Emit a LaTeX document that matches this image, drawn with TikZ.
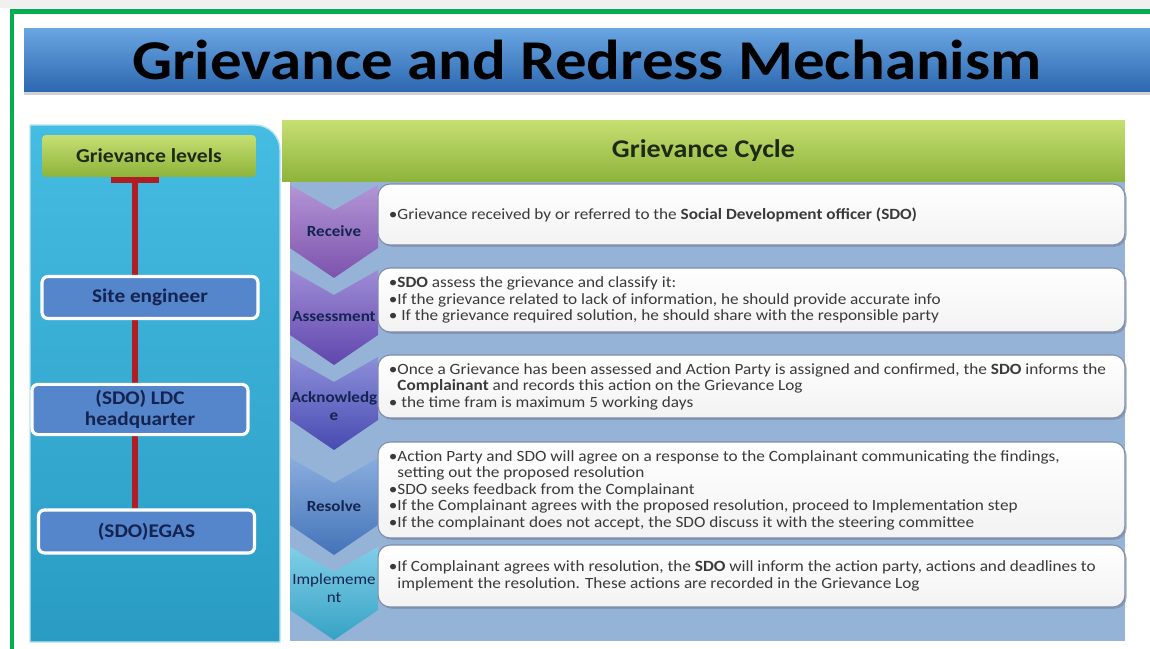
\documentclass[tikz,border=0pt]{standalone}
\usepackage{fontspec}
\setmainfont[FakeStretch=1.1]{Carlito}
\newfontfamily\titlefont[FakeStretch=1.12]{Carlito}
\usetikzlibrary{arrows.meta,shadows}

\definecolor{framegreen}{HTML}{00B050}
\definecolor{titletop}{HTML}{6AA6E2}
\definecolor{titlebot}{HTML}{2C67B0}
\definecolor{headtop}{HTML}{C6DF72}
\definecolor{headbot}{HTML}{8DB33A}
\definecolor{paneltop}{HTML}{45BCE2}
\definecolor{panelbot}{HTML}{2A9CC4}
\definecolor{cycleback}{HTML}{95B3D7}
\definecolor{levelblue}{HTML}{5585CB}
\definecolor{levelred}{HTML}{B01E23}
\definecolor{navytext}{HTML}{14234F}
\definecolor{headtext}{HTML}{1E2A14}
\definecolor{boxtext}{HTML}{3A3A3A}
\definecolor{boxedge}{HTML}{7D8CA8}
\definecolor{chA}{HTML}{8A5CC0}
\definecolor{chB}{HTML}{6A4EC0}
\definecolor{chC}{HTML}{4F52C4}
\definecolor{chD}{HTML}{4A80CC}
\definecolor{chE}{HTML}{3CB4DA}

\pgfdeclarelayer{back}
\pgfdeclarelayer{mid}
\pgfsetlayers{back,mid,main}

\begin{document}
\begin{tikzpicture}[x=0.02cm, y=-0.02cm,
  titlebar/.style={rectangle, top color=titletop, bottom color=titlebot, minimum width=22.52cm, minimum height=1.28cm, font=\titlefont\fontsize{32}{36}\selectfont\bfseries, text=black, drop shadow={shadow xshift=0pt, shadow yshift=-1.5pt, fill=gray!60, opacity=.6}},
  cyclehead/.style={rectangle, top color=headtop, bottom color=headbot, minimum width=16.86cm, minimum height=1.24cm, font=\fontsize{14.5}{16}\selectfont\bfseries, text=headtext},
  lvlhead/.style={rectangle, rounded corners=0.08cm, top color=headtop, bottom color=headbot, minimum width=4.28cm, minimum height=0.84cm, font=\fontsize{11.2}{12}\selectfont\bfseries, text=headtext},
  lvlbox/.style={rectangle, rounded corners=0.12cm, fill=levelblue, draw=white, line width=1.8pt, minimum width=4.32cm, minimum height=0.84cm, align=center, font=\fontsize{11}{12}\selectfont\bfseries, text=navytext},
  stepbox/.style={rectangle, rounded corners=0.24cm, top color=white, bottom color=gray!10, draw=boxedge, line width=0.6pt, minimum width=14.94cm, drop shadow={shadow xshift=1pt, shadow yshift=-1pt, fill=boxedge, opacity=.7}},
  steptext/.style={anchor=west, align=left, inner sep=0pt, text=boxtext, font=\fontsize{8.9}{9.4}\selectfont},
  chevlabel/.style={align=center, inner sep=0pt, text=navytext, font=\fontsize{8.8}{10}\selectfont\bfseries},
  redline/.style={levelred, line width=3.4pt}
]
\useasboundingbox (0,0) rectangle (1150,649);

% frame
\fill[gray!12] (0,0) rectangle (1150,8);
\draw[framegreen, line width=2.3pt] (1150,11.5) -- (12,11.5) -- (12,649);

% panels
\begin{pgfonlayer}{back}
  \shade[top color=paneltop, bottom color=panelbot, draw=white!60!paneltop, line width=0.8pt]
    (30,642) -- (30,125) -- (255,125) .. controls (269,125) and (280,136) .. (280,150) -- (280,642) -- cycle;
  \fill[cycleback] (290,182) rectangle (1125,641);
\end{pgfonlayer}

\node[titlebar] (title) at (587,60) {Grievance and Redress Mechanism};
\node[cyclehead] (cycle) at (703.5,151) {Grievance Cycle};

% grievance levels
\node[lvlhead] (levels) at (149,156) {Grievance levels};
\node[lvlbox] (site) at (150,297.5) {Site engineer};
\node[lvlbox, minimum height=0.86cm] (ldc) at (140,409.5) {(SDO) LDC\\headquarter};
\node[lvlbox, minimum height=0.86cm] (egas) at (146.5,531.5) {(SDO)EGAS};
\begin{pgfonlayer}{mid}
  \draw[redline, {Bar[width=0.95cm]}-] ([xshift=-0.28cm]levels.south) -- ([xshift=-0.23cm]egas.north);
\end{pgfonlayer}

% chevrons
\foreach \t/\b/\c in {185/248/chA, 270/335/chB, 357/420/chC, 458/525/chD, 547/610/chE}
  \shade[top color=\c!65!white, bottom color=\c!90!black]
    (290,\t) -- (334,\t+25) -- (378,\t) -- (378,\b) -- (334,\b+30) -- (290,\b) -- cycle;
\node[chevlabel] (receive) at (334,231) {Receive};
\node[chevlabel] (assess) at (334,317) {Assessment};
\node[chevlabel] (ack) at (334,406) {Acknowledg\\e};
\node[chevlabel] (resolve) at (334,506) {Resolve};
\node[chevlabel, font=\fontsize{8.8}{10.5}\selectfont] (implement) at (334,588) {Implememe\\nt};

% cycle steps
\node[stepbox, minimum height=1.22cm] (receive box) at (751.5,214.5) {};
\node[steptext] (receive text) at ([xshift=0.22cm]receive box.west)
  {\textbullet Grievance received by or referred to the \textbf{Social Development officer (SDO)}};

\node[stepbox, minimum height=1.28cm] (assess box) at (751.5,300) {};
\node[steptext] (assess text) at ([xshift=0.22cm]assess box.west)
  {\textbullet\textbf{SDO} assess the grievance and classify it:\\
   \textbullet If the grievance related to lack of information, he should provide accurate info\\
   \textbullet\ If the grievance required solution, he should share with the responsible party};

\node[stepbox, minimum height=1.26cm] (ack box) at (751.5,386.5) {};
\node[steptext] (ack text) at ([xshift=0.22cm]ack box.west)
  {\textbullet Once a Grievance has been assessed and Action Party is assigned and confirmed, the \textbf{SDO} informs the\\
   \hphantom{\textbullet}\textbf{Complainant} and records this action on the Grievance Log\\
   \textbullet\ the time fram is maximum 5 working days};

\node[stepbox, minimum height=1.92cm] (resolve box) at (751.5,490) {};
\node[steptext] (resolve text) at ([xshift=0.22cm]resolve box.west)
  {\textbullet Action Party and SDO will agree on a response to the Complainant communicating the findings,\\
   \hphantom{\textbullet}setting out the proposed resolution\\
   \textbullet SDO seeks feedback from the Complainant\\
   \textbullet If the Complainant agrees with the proposed resolution, proceed to Implementation step\\
   \textbullet If the complainant does not accept, the SDO discuss it with the steering committee};

\node[stepbox, minimum height=1.24cm] (implement box) at (751.5,576) {};
\node[steptext] (implement text) at ([xshift=0.22cm]implement box.west)
  {\textbullet If Complainant agrees with resolution, the \textbf{SDO} will inform the action party, actions and deadlines to\\
   \hphantom{\textbullet}implement the resolution. These actions are recorded in the Grievance Log};
\end{tikzpicture}
\end{document}
